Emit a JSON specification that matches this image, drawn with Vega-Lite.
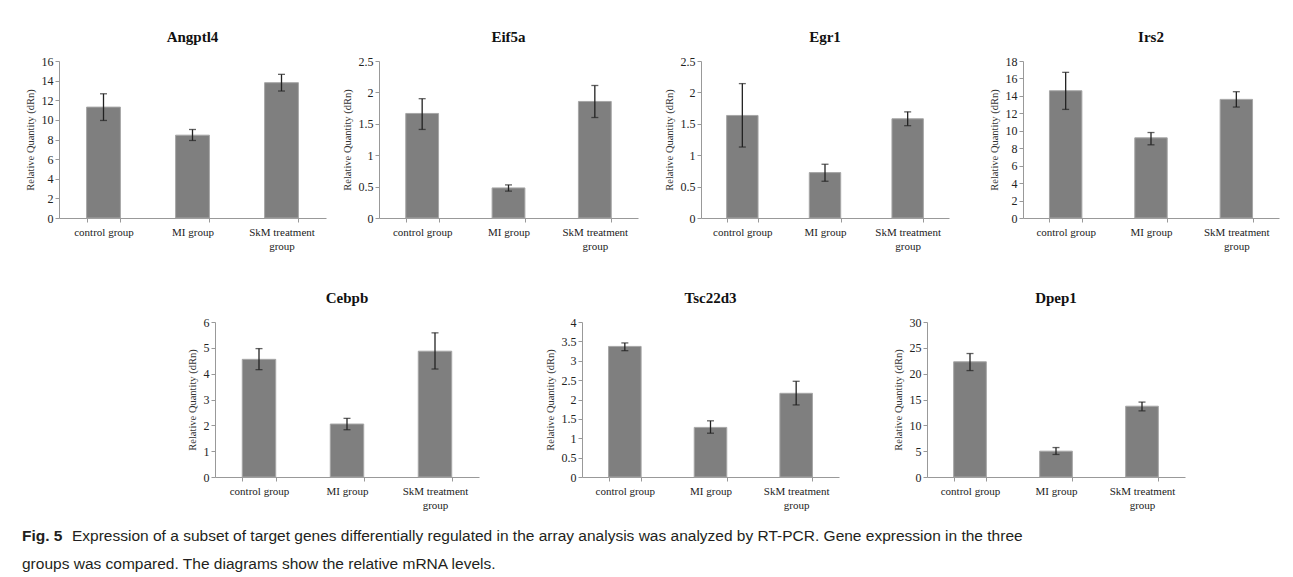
{
  "$schema": "https://vega.github.io/schema/vega-lite/v6.json",
  "background": "white",
  "padding": {"left": 22, "top": 30, "right": 5, "bottom": 0},
  "datasets": {
    "expr": [
      {"gene": "Angptl4", "group": "control group", "value": 11.3, "lo": 9.94, "hi": 12.66},
      {"gene": "Angptl4", "group": "MI group", "value": 8.44, "lo": 7.9, "hi": 9.02},
      {"gene": "Angptl4", "group": "SkM treatment group", "value": 13.79, "lo": 12.94, "hi": 14.64},
      {"gene": "Eif5a", "group": "control group", "value": 1.665, "lo": 1.41, "hi": 1.9},
      {"gene": "Eif5a", "group": "MI group", "value": 0.479, "lo": 0.428, "hi": 0.527},
      {"gene": "Eif5a", "group": "SkM treatment group", "value": 1.856, "lo": 1.6, "hi": 2.11},
      {"gene": "Egr1", "group": "control group", "value": 1.633, "lo": 1.13, "hi": 2.14},
      {"gene": "Egr1", "group": "MI group", "value": 0.723, "lo": 0.585, "hi": 0.856},
      {"gene": "Egr1", "group": "SkM treatment group", "value": 1.58, "lo": 1.47, "hi": 1.69},
      {"gene": "Irs2", "group": "control group", "value": 14.59, "lo": 12.45, "hi": 16.7},
      {"gene": "Irs2", "group": "MI group", "value": 9.19, "lo": 8.39, "hi": 9.8},
      {"gene": "Irs2", "group": "SkM treatment group", "value": 13.6, "lo": 12.72, "hi": 14.48},
      {"gene": "Cebpb", "group": "control group", "value": 4.555, "lo": 4.155, "hi": 4.97},
      {"gene": "Cebpb", "group": "MI group", "value": 2.05, "lo": 1.83, "hi": 2.27},
      {"gene": "Cebpb", "group": "SkM treatment group", "value": 4.87, "lo": 4.18, "hi": 5.58},
      {"gene": "Tsc22d3", "group": "control group", "value": 3.37, "lo": 3.26, "hi": 3.46},
      {"gene": "Tsc22d3", "group": "MI group", "value": 1.28, "lo": 1.13, "hi": 1.45},
      {"gene": "Tsc22d3", "group": "SkM treatment group", "value": 2.16, "lo": 1.86, "hi": 2.47},
      {"gene": "Dpep1", "group": "control group", "value": 22.3, "lo": 20.6, "hi": 23.9},
      {"gene": "Dpep1", "group": "MI group", "value": 5.0, "lo": 4.36, "hi": 5.7},
      {"gene": "Dpep1", "group": "SkM treatment group", "value": 13.7, "lo": 12.8, "hi": 14.5}
    ],
    "caption": [
      {"line": 1, "part": "label", "txt": "Fig. 5"},
      {"line": 1, "part": "body", "txt": "Expression of a subset of target genes differentially regulated in the array analysis was analyzed by RT-PCR. Gene expression in the three"},
      {"line": 2, "part": "body", "txt": "groups was compared. The diagrams show the relative mRNA levels."}
    ]
  },
  "spacing": 40,
  "vconcat": [
    {
      "spacing": 16,
      "hconcat": [
        {
          "width": 267, "height": 157, "title": "Angptl4",
          "data": {"name": "expr"},
          "transform": [{"filter": "datum.gene == 'Angptl4'"}],
          "encoding": {"x": {"field": "group", "type": "nominal", "sort": null, "scale": {"paddingInner": 0.62, "paddingOuter": 0.31}, "axis": {"title": null, "labelAngle": 0, "tickBand": "extent", "labelExpr": "datum.value == 'SkM treatment group' ? ['SkM treatment', 'group'] : datum.value"}}},
          "layer": [
            {"mark": {"type": "bar", "color": "#7f7f7f", "stroke": "#a6a6a6", "strokeWidth": 1}, "encoding": {"y": {"field": "value", "type": "quantitative", "scale": {"domain": [0, 16], "nice": false}, "axis": {"title": "Relative Quantity (dRn)", "values": [0, 2, 4, 6, 8, 10, 12, 14, 16], "labelOverlap": false, "labelExpr": "'' + datum.value"}}}},
            {"mark": {"type": "rule", "color": "#222", "strokeWidth": 1.3}, "encoding": {"y": {"field": "lo", "type": "quantitative", "axis": {"title": "Relative Quantity (dRn)", "values": [0, 2, 4, 6, 8, 10, 12, 14, 16], "labelOverlap": false, "labelExpr": "'' + datum.value"}}, "y2": {"field": "hi"}}},
            {"mark": {"type": "tick", "color": "#222", "size": 7, "thickness": 1.3}, "encoding": {"y": {"field": "lo", "type": "quantitative", "axis": {"title": "Relative Quantity (dRn)", "values": [0, 2, 4, 6, 8, 10, 12, 14, 16], "labelOverlap": false, "labelExpr": "'' + datum.value"}}}},
            {"mark": {"type": "tick", "color": "#222", "size": 7, "thickness": 1.3}, "encoding": {"y": {"field": "hi", "type": "quantitative", "axis": {"title": "Relative Quantity (dRn)", "values": [0, 2, 4, 6, 8, 10, 12, 14, 16], "labelOverlap": false, "labelExpr": "'' + datum.value"}}}}
          ]
        },
        {
          "spacing": 26,
          "hconcat": [
            {
              "width": 259, "height": 157, "title": "Eif5a",
              "data": {"name": "expr"},
              "transform": [{"filter": "datum.gene == 'Eif5a'"}],
              "encoding": {"x": {"field": "group", "type": "nominal", "sort": null, "scale": {"paddingInner": 0.62, "paddingOuter": 0.31}, "axis": {"title": null, "labelAngle": 0, "tickBand": "extent", "labelExpr": "datum.value == 'SkM treatment group' ? ['SkM treatment', 'group'] : datum.value"}}},
              "layer": [
                {"mark": {"type": "bar", "color": "#7f7f7f", "stroke": "#a6a6a6", "strokeWidth": 1}, "encoding": {"y": {"field": "value", "type": "quantitative", "scale": {"domain": [0, 2.5], "nice": false}, "axis": {"title": "Relative Quantity (dRn)", "values": [0, 0.5, 1, 1.5, 2, 2.5], "labelOverlap": false, "labelExpr": "'' + datum.value"}}}},
                {"mark": {"type": "rule", "color": "#222", "strokeWidth": 1.3}, "encoding": {"y": {"field": "lo", "type": "quantitative", "axis": {"title": "Relative Quantity (dRn)", "values": [0, 0.5, 1, 1.5, 2, 2.5], "labelOverlap": false, "labelExpr": "'' + datum.value"}}, "y2": {"field": "hi"}}},
                {"mark": {"type": "tick", "color": "#222", "size": 7, "thickness": 1.3}, "encoding": {"y": {"field": "lo", "type": "quantitative", "axis": {"title": "Relative Quantity (dRn)", "values": [0, 0.5, 1, 1.5, 2, 2.5], "labelOverlap": false, "labelExpr": "'' + datum.value"}}}},
                {"mark": {"type": "tick", "color": "#222", "size": 7, "thickness": 1.3}, "encoding": {"y": {"field": "hi", "type": "quantitative", "axis": {"title": "Relative Quantity (dRn)", "values": [0, 0.5, 1, 1.5, 2, 2.5], "labelOverlap": false, "labelExpr": "'' + datum.value"}}}}
              ]
            },
            {
              "spacing": 40,
              "hconcat": [
                {
                  "width": 248, "height": 157, "title": "Egr1",
                  "data": {"name": "expr"},
                  "transform": [{"filter": "datum.gene == 'Egr1'"}],
                  "encoding": {"x": {"field": "group", "type": "nominal", "sort": null, "scale": {"paddingInner": 0.62, "paddingOuter": 0.31}, "axis": {"title": null, "labelAngle": 0, "tickBand": "extent", "labelExpr": "datum.value == 'SkM treatment group' ? ['SkM treatment', 'group'] : datum.value"}}},
                  "layer": [
                    {"mark": {"type": "bar", "color": "#7f7f7f", "stroke": "#a6a6a6", "strokeWidth": 1}, "encoding": {"y": {"field": "value", "type": "quantitative", "scale": {"domain": [0, 2.5], "nice": false}, "axis": {"title": "Relative Quantity (dRn)", "values": [0, 0.5, 1, 1.5, 2, 2.5], "labelOverlap": false, "labelExpr": "'' + datum.value"}}}},
                    {"mark": {"type": "rule", "color": "#222", "strokeWidth": 1.3}, "encoding": {"y": {"field": "lo", "type": "quantitative", "axis": {"title": "Relative Quantity (dRn)", "values": [0, 0.5, 1, 1.5, 2, 2.5], "labelOverlap": false, "labelExpr": "'' + datum.value"}}, "y2": {"field": "hi"}}},
                    {"mark": {"type": "tick", "color": "#222", "size": 7, "thickness": 1.3}, "encoding": {"y": {"field": "lo", "type": "quantitative", "axis": {"title": "Relative Quantity (dRn)", "values": [0, 0.5, 1, 1.5, 2, 2.5], "labelOverlap": false, "labelExpr": "'' + datum.value"}}}},
                    {"mark": {"type": "tick", "color": "#222", "size": 7, "thickness": 1.3}, "encoding": {"y": {"field": "hi", "type": "quantitative", "axis": {"title": "Relative Quantity (dRn)", "values": [0, 0.5, 1, 1.5, 2, 2.5], "labelOverlap": false, "labelExpr": "'' + datum.value"}}}}
                  ]
                },
                {
                  "width": 256, "height": 157, "title": "Irs2",
                  "data": {"name": "expr"},
                  "transform": [{"filter": "datum.gene == 'Irs2'"}],
                  "encoding": {"x": {"field": "group", "type": "nominal", "sort": null, "scale": {"paddingInner": 0.62, "paddingOuter": 0.31}, "axis": {"title": null, "labelAngle": 0, "tickBand": "extent", "labelExpr": "datum.value == 'SkM treatment group' ? ['SkM treatment', 'group'] : datum.value"}}},
                  "layer": [
                    {"mark": {"type": "bar", "color": "#7f7f7f", "stroke": "#a6a6a6", "strokeWidth": 1}, "encoding": {"y": {"field": "value", "type": "quantitative", "scale": {"domain": [0, 18], "nice": false}, "axis": {"title": "Relative Quantity (dRn)", "values": [0, 2, 4, 6, 8, 10, 12, 14, 16, 18], "labelOverlap": false, "labelExpr": "'' + datum.value"}}}},
                    {"mark": {"type": "rule", "color": "#222", "strokeWidth": 1.3}, "encoding": {"y": {"field": "lo", "type": "quantitative", "axis": {"title": "Relative Quantity (dRn)", "values": [0, 2, 4, 6, 8, 10, 12, 14, 16, 18], "labelOverlap": false, "labelExpr": "'' + datum.value"}}, "y2": {"field": "hi"}}},
                    {"mark": {"type": "tick", "color": "#222", "size": 7, "thickness": 1.3}, "encoding": {"y": {"field": "lo", "type": "quantitative", "axis": {"title": "Relative Quantity (dRn)", "values": [0, 2, 4, 6, 8, 10, 12, 14, 16, 18], "labelOverlap": false, "labelExpr": "'' + datum.value"}}}},
                    {"mark": {"type": "tick", "color": "#222", "size": 7, "thickness": 1.3}, "encoding": {"y": {"field": "hi", "type": "quantitative", "axis": {"title": "Relative Quantity (dRn)", "values": [0, 2, 4, 6, 8, 10, 12, 14, 16, 18], "labelOverlap": false, "labelExpr": "'' + datum.value"}}}}
                  ]
                }
              ]
            }
          ]
        }
      ]
    },
    {
      "spacing": 12,
      "vconcat": [
        {
          "spacing": 0,
          "hconcat": [
            {
              "width": 128, "height": 10,
              "data": {"values": []},
              "mark": {"type": "point", "opacity": 0}
            },
            {
              "spacing": 66,
              "hconcat": [
                {
                  "width": 264, "height": 155, "title": "Cebpb",
                  "data": {"name": "expr"},
                  "transform": [{"filter": "datum.gene == 'Cebpb'"}],
                  "encoding": {"x": {"field": "group", "type": "nominal", "sort": null, "scale": {"paddingInner": 0.62, "paddingOuter": 0.31}, "axis": {"title": null, "labelAngle": 0, "tickBand": "extent", "labelExpr": "datum.value == 'SkM treatment group' ? ['SkM treatment', 'group'] : datum.value"}}},
                  "layer": [
                    {"mark": {"type": "bar", "color": "#7f7f7f", "stroke": "#a6a6a6", "strokeWidth": 1}, "encoding": {"y": {"field": "value", "type": "quantitative", "scale": {"domain": [0, 6], "nice": false}, "axis": {"title": "Relative Quantity (dRn)", "values": [0, 1, 2, 3, 4, 5, 6], "labelOverlap": false, "labelExpr": "'' + datum.value"}}}},
                    {"mark": {"type": "rule", "color": "#222", "strokeWidth": 1.3}, "encoding": {"y": {"field": "lo", "type": "quantitative", "axis": {"title": "Relative Quantity (dRn)", "values": [0, 1, 2, 3, 4, 5, 6], "labelOverlap": false, "labelExpr": "'' + datum.value"}}, "y2": {"field": "hi"}}},
                    {"mark": {"type": "tick", "color": "#222", "size": 7, "thickness": 1.3}, "encoding": {"y": {"field": "lo", "type": "quantitative", "axis": {"title": "Relative Quantity (dRn)", "values": [0, 1, 2, 3, 4, 5, 6], "labelOverlap": false, "labelExpr": "'' + datum.value"}}}},
                    {"mark": {"type": "tick", "color": "#222", "size": 7, "thickness": 1.3}, "encoding": {"y": {"field": "hi", "type": "quantitative", "axis": {"title": "Relative Quantity (dRn)", "values": [0, 1, 2, 3, 4, 5, 6], "labelOverlap": false, "labelExpr": "'' + datum.value"}}}}
                  ]
                },
                {
                  "spacing": 54,
                  "hconcat": [
                    {
                      "width": 257, "height": 155, "title": "Tsc22d3",
                      "data": {"name": "expr"},
                      "transform": [{"filter": "datum.gene == 'Tsc22d3'"}],
                      "encoding": {"x": {"field": "group", "type": "nominal", "sort": null, "scale": {"paddingInner": 0.62, "paddingOuter": 0.31}, "axis": {"title": null, "labelAngle": 0, "tickBand": "extent", "labelExpr": "datum.value == 'SkM treatment group' ? ['SkM treatment', 'group'] : datum.value"}}},
                      "layer": [
                        {"mark": {"type": "bar", "color": "#7f7f7f", "stroke": "#a6a6a6", "strokeWidth": 1}, "encoding": {"y": {"field": "value", "type": "quantitative", "scale": {"domain": [0, 4], "nice": false}, "axis": {"title": "Relative Quantity (dRn)", "values": [0, 0.5, 1, 1.5, 2, 2.5, 3, 3.5, 4], "labelOverlap": false, "labelExpr": "'' + datum.value"}}}},
                        {"mark": {"type": "rule", "color": "#222", "strokeWidth": 1.3}, "encoding": {"y": {"field": "lo", "type": "quantitative", "axis": {"title": "Relative Quantity (dRn)", "values": [0, 0.5, 1, 1.5, 2, 2.5, 3, 3.5, 4], "labelOverlap": false, "labelExpr": "'' + datum.value"}}, "y2": {"field": "hi"}}},
                        {"mark": {"type": "tick", "color": "#222", "size": 7, "thickness": 1.3}, "encoding": {"y": {"field": "lo", "type": "quantitative", "axis": {"title": "Relative Quantity (dRn)", "values": [0, 0.5, 1, 1.5, 2, 2.5, 3, 3.5, 4], "labelOverlap": false, "labelExpr": "'' + datum.value"}}}},
                        {"mark": {"type": "tick", "color": "#222", "size": 7, "thickness": 1.3}, "encoding": {"y": {"field": "hi", "type": "quantitative", "axis": {"title": "Relative Quantity (dRn)", "values": [0, 0.5, 1, 1.5, 2, 2.5, 3, 3.5, 4], "labelOverlap": false, "labelExpr": "'' + datum.value"}}}}
                      ]
                    },
                    {
                      "width": 258, "height": 155, "title": "Dpep1",
                      "data": {"name": "expr"},
                      "transform": [{"filter": "datum.gene == 'Dpep1'"}],
                      "encoding": {"x": {"field": "group", "type": "nominal", "sort": null, "scale": {"paddingInner": 0.62, "paddingOuter": 0.31}, "axis": {"title": null, "labelAngle": 0, "tickBand": "extent", "labelExpr": "datum.value == 'SkM treatment group' ? ['SkM treatment', 'group'] : datum.value"}}},
                      "layer": [
                        {"mark": {"type": "bar", "color": "#7f7f7f", "stroke": "#a6a6a6", "strokeWidth": 1}, "encoding": {"y": {"field": "value", "type": "quantitative", "scale": {"domain": [0, 30], "nice": false}, "axis": {"title": "Relative Quantity (dRn)", "values": [0, 5, 10, 15, 20, 25, 30], "labelOverlap": false, "labelExpr": "'' + datum.value"}}}},
                        {"mark": {"type": "rule", "color": "#222", "strokeWidth": 1.3}, "encoding": {"y": {"field": "lo", "type": "quantitative", "axis": {"title": "Relative Quantity (dRn)", "values": [0, 5, 10, 15, 20, 25, 30], "labelOverlap": false, "labelExpr": "'' + datum.value"}}, "y2": {"field": "hi"}}},
                        {"mark": {"type": "tick", "color": "#222", "size": 7, "thickness": 1.3}, "encoding": {"y": {"field": "lo", "type": "quantitative", "axis": {"title": "Relative Quantity (dRn)", "values": [0, 5, 10, 15, 20, 25, 30], "labelOverlap": false, "labelExpr": "'' + datum.value"}}}},
                        {"mark": {"type": "tick", "color": "#222", "size": 7, "thickness": 1.3}, "encoding": {"y": {"field": "hi", "type": "quantitative", "axis": {"title": "Relative Quantity (dRn)", "values": [0, 5, 10, 15, 20, 25, 30], "labelOverlap": false, "labelExpr": "'' + datum.value"}}}}
                      ]
                    }
                  ]
                }
              ]
            }
          ]
        },
        {
          "width": 1200, "height": 56,
          "data": {"name": "caption"},
          "encoding": {
            "y": {"field": "line", "type": "ordinal", "axis": null, "scale": {"paddingInner": 0, "paddingOuter": 0}},
            "x": {"value": 0},
            "text": {"field": "txt"}
          },
          "layer": [
            {"transform": [{"filter": "datum.part == 'label'"}], "mark": {"type": "text", "align": "left", "baseline": "middle", "dx": -37, "font": "Liberation Sans", "fontSize": 15.5, "fontWeight": "bold", "color": "#231f20"}},
            {"transform": [{"filter": "datum.part == 'body' && datum.line == 1"}], "mark": {"type": "text", "align": "left", "baseline": "middle", "dx": 13, "font": "Liberation Sans", "fontSize": 15.5, "color": "#231f20"}},
            {"transform": [{"filter": "datum.part == 'body' && datum.line == 2"}], "mark": {"type": "text", "align": "left", "baseline": "middle", "dx": -37, "font": "Liberation Sans", "fontSize": 15.5, "color": "#231f20"}}
          ]
        }
      ]
    }
  ],
  "config": {
    "view": {"stroke": null},
    "font": "Liberation Serif",
    "title": {"font": "Liberation Serif", "fontSize": 15, "fontWeight": "bold", "color": "#111", "offset": 10},
    "axis": {
      "grid": false,
      "labelFont": "Liberation Serif",
      "labelFontSize": 11,
      "labelColor": "#222",
      "labelOverlap": false,
      "titleFont": "Liberation Serif",
      "titleFontSize": 10.5,
      "titleFontWeight": "normal",
      "titleColor": "#333",
      "domainColor": "#999",
      "tickColor": "#999",
      "tickSize": 4
    },
    "axisX": {"labelPadding": 4, "labelLineHeight": 14},
    "axisY": {"titlePadding": 6, "labelPadding": 2, "labelFontSize": 12}
  }
}
